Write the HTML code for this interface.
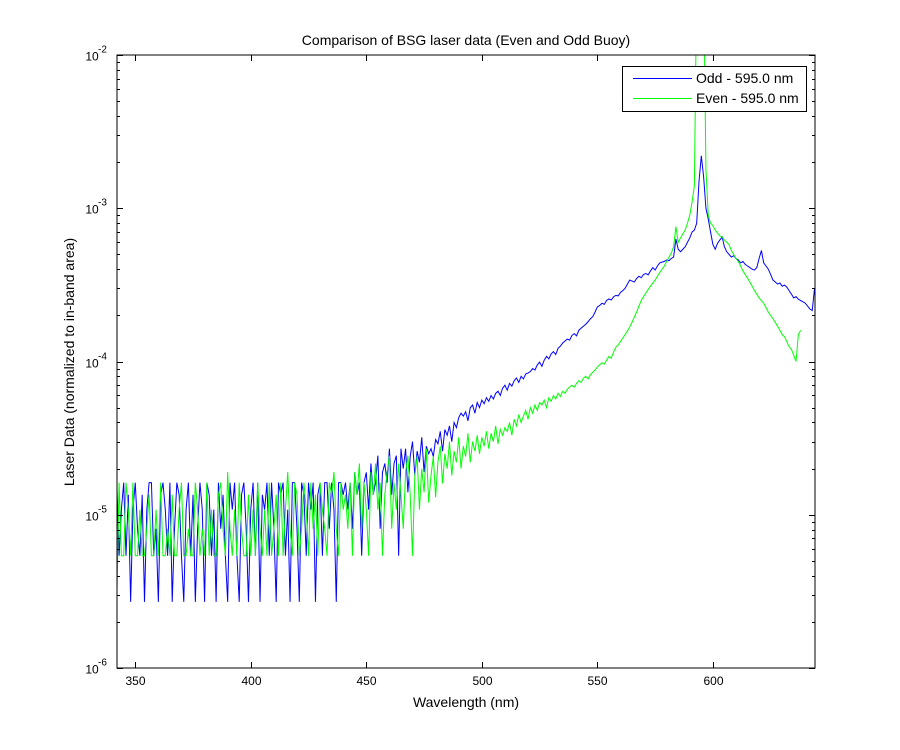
<!DOCTYPE html>
<html><head><meta charset="utf-8"><title>Comparison of BSG laser data</title>
<style>
html,body{margin:0;padding:0;background:#fff;}
svg{display:block;font-family:"Liberation Sans",Arial,sans-serif;}
</style></head>
<body>
<svg id="chart" width="900" height="750" viewBox="0 0 900 750" xmlns="http://www.w3.org/2000/svg">
<rect x="0" y="0" width="900" height="750" fill="#fff"/>
<defs><clipPath id="plotclip"><rect x="117" y="55" width="698" height="613"/></clipPath></defs>
<text x="466" y="45" font-size="14" text-anchor="middle">Comparison of BSG laser data (Even and Odd Buoy)</text>
<text x="466" y="707" font-size="14" text-anchor="middle">Wavelength (nm)</text>
<text x="0" y="0" font-size="14" text-anchor="middle" transform="translate(74,362) rotate(-90)">Laser Data (normalized to in-band area)</text>
<g id="series" clip-path="url(#plotclip)"></g>
<g id="axes"></g>
<rect x="117" y="55" width="698" height="613" fill="none" stroke="#000" stroke-width="1"/>
<g>
<rect x="622.5" y="66.5" width="184" height="45" fill="#fff" stroke="#000"/>
<line x1="633" y1="78.5" x2="692" y2="78.5" stroke="#0000ff"/>
<text x="696" y="83" font-size="14">Odd - 595.0 nm</text>
<line x1="633" y1="98.5" x2="692" y2="98.5" stroke="#00ff00"/>
<text x="696" y="103" font-size="14">Even - 595.0 nm</text>
</g>
</svg>
<script>
// wavelengths: start + index (1 nm step)
const WL_START = 342;
const xTicks = [350, 400, 450, 500, 550, 600];
const yDecades = [-2, -3, -4, -5, -6];
const yTickLabels = ["-2", "-3", "-4", "-5", "-6"];
// values in units of 1e-6
const oddValues = [
16.2,5.4,10.8,16.2,5.4,13.5,2.7,10.8,16.2,8.1,5.4,13.5,2.7,10.8,16.2,16.2,5.4,8.1,2.7,13.5,
16.2,10.8,5.4,16.2,2.7,8.1,16.2,13.5,5.4,2.7,10.8,16.2,5.4,13.5,2.7,8.1,16.2,10.8,2.7,16.2,
13.5,5.4,10.8,2.7,16.2,8.1,13.5,5.4,2.7,16.2,10.8,16.2,5.4,2.7,13.5,16.2,8.1,2.7,10.8,16.2,
5.4,16.2,2.7,13.5,10.8,16.2,5.4,16.2,8.1,2.7,16.2,13.5,16.2,5.4,10.8,2.7,16.2,16.2,8.1,2.7,
16.2,13.5,5.4,16.2,10.8,16.2,2.7,13.5,16.2,5.4,16.2,16.2,8.1,16.2,10.8,2.7,16.2,16.2,13.5,16.2,
10.8,16.2,8.1,18.9,13.5,16.2,5.4,16.2,18.9,10.8,21.6,13.5,16.2,24.3,8.1,18.9,21.6,16.2,27,13.5,21.6,24.3,5.4,27,
20,27,14,24,30,18,26,22,32,19,28,25,
27,24,31,29,35,26,36,33,38,30,40,37,43,46,
44,47,41,50,52,46,54,50,56,53,58,55,60,57,62,
64,60,67,70,65,72,69,75,78,73,80,77,83,84,
86,90,88,95,99,93,102,108,104,112,116,111,122,126,132,
136,140,138,148,152,147,160,165,170,175,182,190,196,210,227,
232,240,236,250,256,252,264,270,268,282,290,300,320,340,
335,330,348,360,352,370,375,368,390,410,395,420,440,
445,450,460,455,470,480,630,540,520,540,560,600,
640,700,720,800,1500,2200,1600,1000,
850,700,580,540,590,620,650,560,520,500,480,490,470,460,440,450,430,420,410,400,395,410,470,530,440,420,400,370,340,330,320,325,310,315,306,290,275,260,265,255,250,245,240,230,220,215,300
];
const evenValues = [
2.7,16.2,5.4,5.4,16.2,10.8,5.4,16.2,5.4,5.4,10.8,5.4,5.4,8.1,13.5,5.4,5.4,10.8,5.4,16.2,
5.4,5.4,8.1,5.4,13.5,5.4,5.4,10.8,16.2,5.4,5.4,8.1,5.4,5.4,16.2,10.8,5.4,8.1,5.4,16.2,
5.4,10.8,5.4,5.4,13.5,16.2,8.1,5.4,19,8.1,5.4,10.8,5.4,16.2,8.1,5.4,5.4,13.5,5.4,10.8,
5.4,16.2,8.1,5.4,10.8,5.4,16.2,5.4,8.1,13.5,5.4,16.2,5.4,10.8,19,8.1,5.4,16.2,13.5,5.4,
8.1,16.2,10.8,5.4,16.2,8.1,13.5,5.4,16.2,10.8,8.1,5.4,16.2,13.5,19,8.1,5.4,16.2,10.8,13.5,
8.1,16.2,5.4,19,13.5,21.6,8.1,16.2,10.8,5.4,19,13.5,21.6,10.8,16.2,5.4,13.5,19,24.3,8.1,
16.2,10.8,21.6,13.5,8.1,19,24.3,13.5,5.4,18,24,10.8,20,14,27,12,
18,24,13,22,28,16,25,20,30,18,26,22,32,20,28,24,34,22,30,26,33,25,32,28,35,27,34,30,38,29,36,33,37,
35,40,33,42,38,45,40,44,48,42,50,46,52,48,54,
52,56,50,58,55,60,57,62,59,64,62,66,68,
70,68,72,75,73,78,80,77,82,85,88,92,
95,98,96,102,108,105,115,124,128,135,142,150,158,168,
180,195,210,230,250,265,280,295,310,325,339,360,380,
400,420,450,480,510,560,760,600,640,680,720,800,900,1100,1400,
30000,50000,50000,30000,1800,
900,800,770,720,690,660,650,620,600,580,530,500,470,450,420,390,370,350,330,310,290,275,260,250,240,225,210,200,190,180,170,160,150,145,135,125,120,110,100,150,160
];
const VAL_UNIT = 1e-6;

const PL = 117, PR = 815, PT = 55, PB = 668;
const X_MIN = 342.1, X_MAX = 644.2;
const LOG_MIN = -6, LOG_MAX = -2;
function xScale(w){ return PL + (w - X_MIN) / (X_MAX - X_MIN) * (PR - PL); }
function yScale(v){ return PB - (Math.log10(v) - LOG_MIN) / (LOG_MAX - LOG_MIN) * (PB - PT); }

const NS = "http://www.w3.org/2000/svg";
const axes = document.getElementById("axes");
const series = document.getElementById("series");
function mk(tag, attrs, parent){
  const e = document.createElementNS(NS, tag);
  for (const k in attrs) e.setAttribute(k, attrs[k]);
  parent.appendChild(e);
  return e;
}

// x ticks
xTicks.forEach(function(t){
  const x = Math.round(xScale(t)) + 0.5;
  const tb = mk("line", {x1:x, y1:PB, x2:x, y2:PB-6, stroke:"#000"}, axes);
  
  
  const tt = mk("line", {x1:x, y1:PT, x2:x, y2:PT+6, stroke:"#000"}, axes);
  
  
  const lb = mk("text", {x:x, y:PB+17, "font-size":12, "text-anchor":"middle"}, axes);
  lb.textContent = String(t);
  
  
});

// y ticks (decades + minor)
yDecades.forEach(function(d, i){
  const y = Math.round(yScale(Math.pow(10, d))) + 0.5;
  const tl = mk("line", {x1:PL, y1:y, x2:PL+6, y2:y, stroke:"#000"}, axes);
  
  
  const tr = mk("line", {x1:PR, y1:y, x2:PR-6, y2:y, stroke:"#000"}, axes);
  
  
  const lb = mk("text", {x:PL-25, y:y+5, "font-size":12, "text-anchor":"middle"}, axes);
  lb.textContent = "10";
  
  
  const sp = mk("text", {x:PL-19, y:y-3, "font-size":10, "text-anchor":"start"}, axes);
  sp.textContent = yTickLabels[i];
  
  
  if (d > LOG_MIN) {
    for (let m = 2; m <= 9; m++) {
      const ym = Math.round(yScale(m * Math.pow(10, d - 1))) + 0.5;
      const a = mk("line", {x1:PL, y1:ym, x2:PL+3, y2:ym, stroke:"#000"}, axes);
      
      
      const b = mk("line", {x1:PR, y1:ym, x2:PR-3, y2:ym, stroke:"#000"}, axes);
      
      
    }
  }
});

function drawSeries(vals, color, name){
  const pts = [];
  vals.forEach(function(v, i){
    if (v == null) return;
    pts.push(xScale(WL_START + i).toFixed(2) + "," + yScale(v * VAL_UNIT).toFixed(2));
  });
  const pl = mk("polyline", {points: pts.join(" "), fill:"none", stroke:color, "stroke-width":1, "stroke-linejoin":"miter"}, series);
  
  
}
drawSeries(oddValues, "#0000ff", "odd-series-line");
drawSeries(evenValues, "#00ff00", "even-series-line");
</script>
</body></html>
